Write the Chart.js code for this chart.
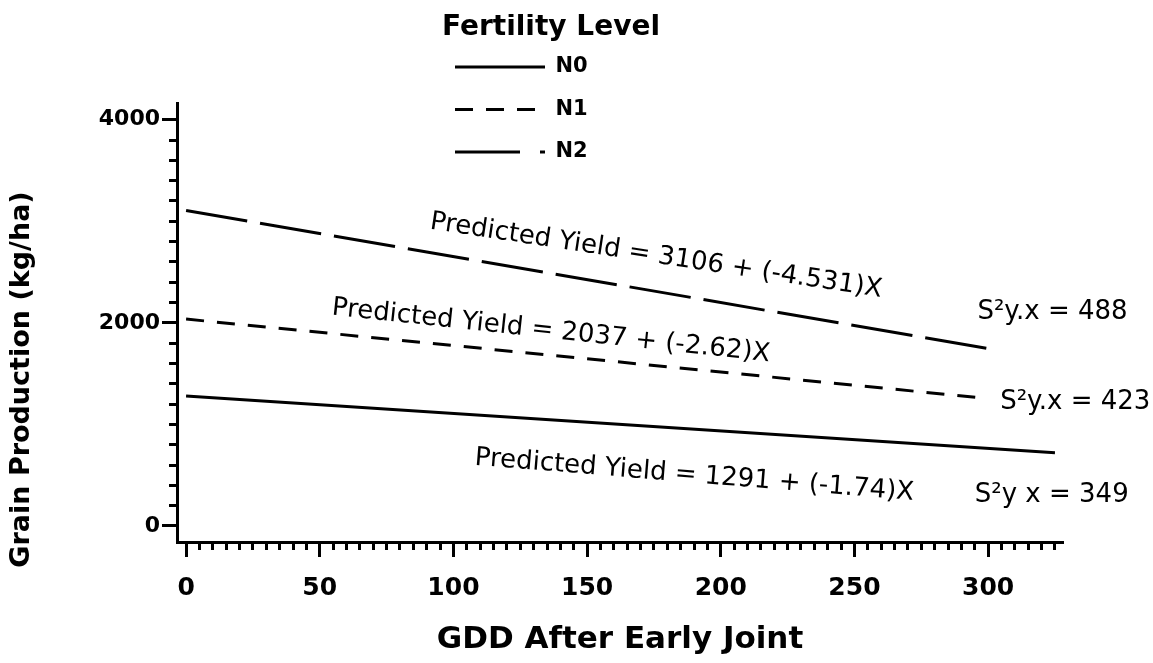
<!DOCTYPE html>
<html>
<head>
<meta charset="utf-8">
<script src="https://cdn.jsdelivr.net/npm/chart.js@4.4.1/dist/chart.umd.min.js"></script>
<style>
  html, body { margin: 0; padding: 0; background: #ffffff; }
  canvas { display: block; }
</style>
</head>
<body>
<canvas id="c" width="1153" height="663"></canvas>
<script>
// ---------- data ----------
const seriesNames = ['N0', 'N1', 'N2'];
const n0Gdd = [0, 325];
const n0Yield = [1280, 722];
const n1Gdd = [0, 300];
const n1Yield = [2037, 1255];
const n2Gdd = [0, 301];
const n2Yield = [3106, 1742];

const xLabelledTicks = [0, 50, 100, 150, 200, 250, 300];
const yLabelledTicks = [0, 2000, 4000];
const xMinorStep = 5, xLastTick = 325;
const yMinorStep = 200, yLastTick = 4000;

const equationTexts = [
  'Predicted Yield = 1291 + (-1.74)X',
  'Predicted Yield = 2037 + (-2.62)X',
  'Predicted Yield = 3106 + (-4.531)X'
];
const varianceTexts = ['S\u00B2y x = 349', 'S\u00B2y.x = 423', 'S\u00B2y.x = 488'];

// ---------- layout of text notes (data coordinates) ----------
const noteLayout = [
  { text: equationTexts[0], x: 108, y: 670, angle: 4.6 },
  { text: equationTexts[1], x: 54.6, y: 2148, angle: 6.1 },
  { text: equationTexts[2], x: 91.3, y: 2995, angle: 8.6 },
  { text: varianceTexts[0], x: 295, y: 305, angle: 0 },
  { text: varianceTexts[1], x: 304.5, y: 1222, angle: 0 },
  { text: varianceTexts[2], x: 296, y: 2108, angle: 0 }
];

const black = '#000000';
const xTicksAll = [];
for (let v = 0; v <= xLastTick; v += xMinorStep) xTicksAll.push(v);
const yTicksAll = [];
for (let v = 0; v <= yLastTick; v += yMinorStep) yTicksAll.push(v);

const toPoints = (xs, ys) => xs.map((x, i) => ({ x: x, y: ys[i] }));
const dashes = { N0: [], N1: [18, 13], N2: [62, 13] };
const legendDashes = { N0: [], N1: [18, 13], N2: [65, 20, 6, 100] };

const datasets = [
  { label: seriesNames[0], data: toPoints(n0Gdd, n0Yield) },
  { label: seriesNames[1], data: toPoints(n1Gdd, n1Yield) },
  { label: seriesNames[2], data: toPoints(n2Gdd, n2Yield) }
].map(d => Object.assign({
  borderColor: black, backgroundColor: black, borderWidth: 3,
  borderDash: dashes[d.label], borderCapStyle: 'butt',
  pointRadius: 0, pointHoverRadius: 0, tension: 0, fill: false
}, d));

Chart.defaults.font.family = "'DejaVu Sans', sans-serif";
Chart.defaults.color = black;

const legendPlacer = {
  id: 'legendPlacer',
  afterLayout(chart) {
    const lg = chart.legend;
    if (!lg) return;
    lg.left = 433.5; lg.width = 235; lg.right = lg.left + lg.width;
    lg.top = 14; lg.height = 300; lg.bottom = lg.top + lg.height;
  }
};

const titleShift = {
  id: 'titleShift',
  afterLayout(chart) {
    const s = chart.scales.y;
    if (!s || s.__shifted) return;
    const orig = s.drawTitle;
    s.drawTitle = function () {
      const t = this.top, b = this.bottom;
      this.top += 57; this.bottom += 57;
      orig.call(this);
      this.top = t; this.bottom = b;
    };
    s.__shifted = true;
  }
};

const textNotes = {
  id: 'textNotes',
  afterDatasetsDraw(chart) {
    const ctx = chart.ctx, xs = chart.scales.x, ys = chart.scales.y;
    ctx.save();
    ctx.fillStyle = black;
    ctx.font = "26px 'DejaVu Sans', sans-serif";
    ctx.textBaseline = 'middle';
    ctx.textAlign = 'left';
    noteLayout.forEach(n => {
      ctx.save();
      ctx.translate(xs.getPixelForValue(n.x), ys.getPixelForValue(n.y));
      ctx.rotate(n.angle * Math.PI / 180);
      ctx.fillText(n.text, 0, 0);
      ctx.restore();
    });
    ctx.restore();
  }
};

new Chart(document.getElementById('c'), {
  type: 'line',
  data: { datasets: datasets },
  plugins: [legendPlacer, titleShift, textNotes],
  options: {
    responsive: false,
    animation: false,
    devicePixelRatio: 1,
    events: [],
    layout: { padding: { left: 0, right: 90, top: 103, bottom: 0 } },
    plugins: {
      tooltip: { enabled: false },
      legend: {
        display: true,
        position: 'chartArea',
        align: 'start',
        labels: {
          usePointStyle: true,
          pointStyle: 'line',
          pointStyleWidth: 90,
          padding: 21.5,
          color: black,
          font: { size: 21, weight: 'bold' },
          generateLabels(chart) {
            const items = Chart.defaults.plugins.legend.labels.generateLabels(chart);
            items.forEach(it => {
              it.pointStyle = 'line';
              it.lineDash = legendDashes[it.text] || [];
              it.lineWidth = 3;
            });
            return items;
          }
        },
        title: {
          display: true,
          text: 'Fertility Level',
          color: black,
          font: { size: 28, weight: 'bold', lineHeight: 0.6 },
          padding: { top: 0, bottom: 4.2 }
        }
      }
    },
    scales: {
      x: {
        type: 'linear',
        min: -3.4,
        max: 328,
        border: { display: true, color: black, width: 3 },
        grid: {
          drawOnChartArea: false,
          drawTicks: true,
          tickLength: 15,
          tickColor: black,
          tickWidth: 3,
          tickBorderDash: (c) => (c.tick && c.tick.value % 50 === 0) ? [] : [6, 100]
        },
        ticks: {
          autoSkip: false,
          maxRotation: 0,
          padding: 16,
          color: black,
          font: { size: 25, weight: 'bold' },
          callback: (v) => xLabelledTicks.includes(v) ? String(v) : ''
        },
        afterBuildTicks: (s) => { s.ticks = xTicksAll.map(v => ({ value: v })); },
        afterFit: (s) => { s.height = 121; },
        title: {
          display: true,
          text: 'GDD After Early Joint',
          color: black,
          font: { size: 31, weight: 'bold' },
          padding: { top: 0, bottom: 4 }
        }
      },
      y: {
        type: 'linear',
        min: -158,
        max: 4165,
        border: { display: true, color: black, width: 3 },
        grid: {
          drawOnChartArea: false,
          drawTicks: true,
          tickLength: 15,
          tickColor: black,
          tickWidth: 3,
          tickBorderDash: (c) => (c.tick && c.tick.value % 2000 === 0) ? [] : [0, 7, 7, 100]
        },
        ticks: {
          autoSkip: false,
          padding: 2,
          color: black,
          font: { size: 22, weight: 'bold' },
          callback: (v) => yLabelledTicks.includes(v) ? String(v) : ''
        },
        afterBuildTicks: (s) => { s.ticks = yTicksAll.map(v => ({ value: v })); },
        afterFit: (s) => { s.width = 177; },
        title: {
          display: true,
          text: 'Grain Production (kg/ha)',
          color: black,
          font: { size: 27, weight: 'bold' },
          padding: { top: 6, bottom: 0 }
        }
      }
    }
  }
});
</script>
</body>
</html>
